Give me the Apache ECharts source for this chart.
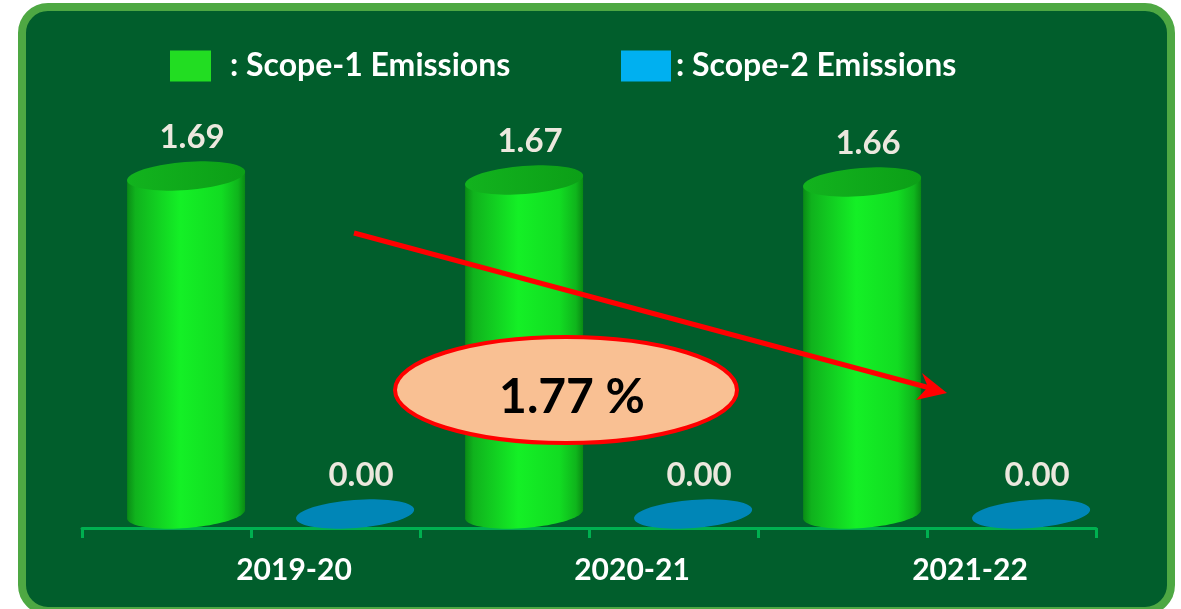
<!DOCTYPE html>
<html>
<head>
<meta charset="utf-8">
<script src="https://cdn.jsdelivr.net/npm/echarts@6/dist/echarts.min.js"></script>
<style>
  html, body { margin: 0; padding: 0; background: #ffffff; overflow: hidden; }
  #wrap { position: relative; width: 1181px; height: 609px; overflow: hidden; }
  #frame {
    position: absolute; left: 18px; top: 3px; width: 1157px; height: 612px;
    box-sizing: border-box; border: 8px solid #4ea843; border-radius: 30px;
    background: #015e2c;
  }
  #chart { position: absolute; left: 0; top: 0; width: 1181px; height: 609px; }
</style>
</head>
<body>
<div id="wrap">
  <div id="frame"></div>
  <div id="chart"></div>
</div>
<script>
// Emissions by financial year
const years = ['2019-20', '2020-21', '2021-22'];
const scope1 = [1.69, 1.67, 1.66];
const scope2 = [0.00, 0.00, 0.00];
const tickSlots = ['', '', '', '', '', ''];
const reductionText = '1.77 %';

const FONT = 'Lato, "Open Sans", sans-serif';
const TILT = 0.077;

// one point of a slightly tilted ellipse at parameter t
function ellipsePt(cx, cy, rx, ry, t) {
  const c = Math.cos(TILT), s = Math.sin(TILT);
  const dx = rx * Math.cos(t), dy = ry * Math.sin(t);
  return [cx + dx * c + dy * s, cy - dx * s + dy * c];
}

// points of a tilted ellipse arc from angle a0 to a1
function ellipsePts(cx, cy, rx, ry, a0, a1, n) {
  const pts = [];
  for (let i = 0; i <= n; i++) {
    pts.push(ellipsePt(cx, cy, rx, ry, a0 + (a1 - a0) * i / n));
  }
  return pts;
}

function cylinderRenderer(offsetFrac, look) {
  return function (params, api) {
    const cat = api.value(0);
    const val = api.value(1);
    const base = api.coord([cat, 0]);
    const top = api.coord([cat, val]);
    const band = api.size([1, 0])[0];
    const cx = base[0] + band * offsetFrac;
    const rx = band * 0.175;
    const ry = 14;
    const lift = 14;
    const yb = base[1] - lift;
    const yt = top[1] - lift;
    const children = [];

    if (yb - yt > 1) {
      const bottom = ellipsePts(cx, yb, rx, ry, Math.PI, 0, 40);
      const topL = ellipsePt(cx, yt, rx, ry, Math.PI);
      const topR = ellipsePt(cx, yt, rx, ry, 0);
      children.push({
        type: 'polygon',
        shape: { points: [topL].concat(bottom, [topR]) },
        style: {
          fill: new echarts.graphic.LinearGradient(0, 0, 1, 0, look.body)
        }
      });
    }
    children.push({
      type: 'polygon',
      shape: { points: ellipsePts(cx, yt, rx, ry, 0, Math.PI * 2, 72) },
      style: { fill: look.top }
    });
    children.push({
      type: 'text',
      x: cx + 6,
      y: yt - 39,
      style: {
        text: val.toFixed(2),
        font: 'bold 33px ' + FONT,
        fill: '#ece8de',
        align: 'center',
        verticalAlign: 'middle'
      }
    });
    return { type: 'group', children: children };
  };
}

const greenLook = {
  body: [
    { offset: 0, color: '#0a8c16' },
    { offset: 0.07, color: '#10b21d' },
    { offset: 0.45, color: '#14f026' },
    { offset: 0.8, color: '#12dc22' },
    { offset: 0.94, color: '#0fb51c' },
    { offset: 1, color: '#0a8a14' }
  ],
  top: new echarts.graphic.LinearGradient(0, 0, 1, 0, [
    { offset: 0, color: '#12b31e' },
    { offset: 1, color: '#0c9f17' }
  ])
};
const blueLook = { body: [{ offset: 0, color: '#0086b7' }, { offset: 1, color: '#0086b7' }], top: '#0086b7' };

const chart = echarts.init(document.getElementById('chart'), null, { renderer: 'canvas' });

const legendText = { color: '#ffffff', fontFamily: FONT, fontWeight: 'bold', fontSize: 32 };

chart.setOption({
  backgroundColor: 'transparent',
  animation: false,
  legend: [
    {
      left: 170, top: 50, padding: 0, itemWidth: 41, itemHeight: 31,
      icon: 'rect', selectedMode: false,
      data: ['Scope-1 Emissions'],
      formatter: ': {name}',
      textStyle: Object.assign({ padding: [0, 0, 0, 14] }, legendText)
    },
    {
      left: 621, top: 50, padding: 0, itemWidth: 50, itemHeight: 31,
      icon: 'rect', selectedMode: false,
      data: ['Scope-2 Emissions'],
      formatter: ': {name}',
      textStyle: Object.assign({ padding: [0, 0, 0, 0] }, legendText)
    }
  ],
  grid: { left: 82, right: 85, top: 128, bottom: 81 },
  xAxis: [
    {
      type: 'category',
      data: years,
      axisLine: { show: true, lineStyle: { color: '#00b050', width: 3 } },
      axisTick: { show: false },
      axisLabel: {
        interval: 0,
        margin: 27,
        color: '#ffffff',
        fontFamily: FONT,
        fontWeight: 'bold',
        fontSize: 30,
        padding: [0, 0, 0, 86]
      },
      splitLine: { show: false }
    },
    {
      type: 'category',
      data: tickSlots,
      position: 'bottom',
      axisLine: { show: false },
      axisTick: { show: true, length: 10, lineStyle: { color: '#00b050', width: 3 } },
      axisLabel: { show: false },
      splitLine: { show: false }
    }
  ],
  yAxis: { type: 'value', min: 0, max: 2, show: false, splitLine: { show: false } },
  series: [
    {
      name: 'Scope-1 Emissions',
      type: 'custom',
      itemStyle: { color: '#22dd22' },
      renderItem: cylinderRenderer(-0.192, greenLook),
      data: years.map((y, i) => [i, scope1[i]]),
      z: 3
    },
    {
      name: 'Scope-2 Emissions',
      type: 'custom',
      itemStyle: { color: '#00b0f0' },
      renderItem: cylinderRenderer(0.308, blueLook),
      data: years.map((y, i) => [i, scope2[i]]),
      z: 3
    }
  ],
  graphic: [
    {
      type: 'polyline', z: 100,
      shape: { points: [[354, 233], [930, 388]] },
      style: { stroke: '#ff0000', lineWidth: 5 }
    },
    {
      type: 'polygon', z: 100,
      shape: { points: [[947, 393], [922, 373], [928, 387], [916, 400]] },
      style: { fill: '#ff0000' }
    },
    {
      type: 'ellipse', z: 100,
      shape: { cx: 566, cy: 390, rx: 171, ry: 53 },
      style: { fill: '#f9c093', stroke: '#ff0000', lineWidth: 4 }
    },
    {
      type: 'text', z: 101,
      x: 572, y: 398,
      style: {
        text: reductionText,
        font: 'bold 48px ' + FONT,
        fill: '#000000',
        align: 'center',
        verticalAlign: 'middle',
        textAlign: 'center',
        textVerticalAlign: 'middle'
      }
    }
  ]
});
</script>
</body>
</html>
